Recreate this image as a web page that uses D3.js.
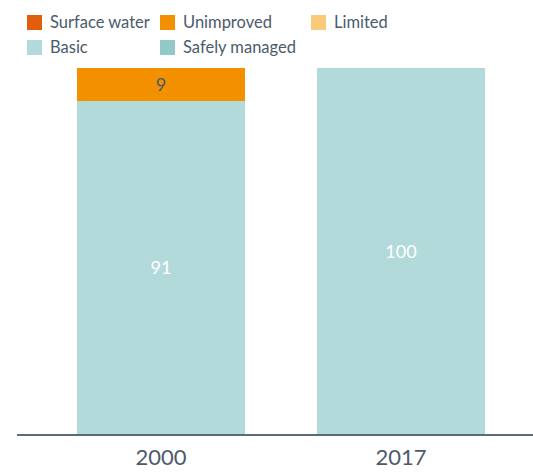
<!DOCTYPE html>
<html>
<head>
<meta charset="utf-8">
<script src="https://cdn.jsdelivr.net/npm/d3@7"></script>
<style>
  body { margin: 0; background: #fff; }
  text { font-family: Lato, "Noto Sans", sans-serif; }
</style>
</head>
<body>
<svg></svg>
<script>
const years = ['2000', '2017'];
const categories = ['Surface water', 'Unimproved', 'Limited', 'Basic', 'Safely managed'];
const colors = ['#e05d0b', '#f39000', '#fbc97a', '#b3dada', '#92c9c8'];
const surfaceWater = [0, 0];
const unimproved = [9, 0];
const limited = [0, 0];
const basic = [91, 100];
const safelyManaged = [0, 0];

const width = 533, height = 472;
const svg = d3.select('svg')
    .attr('width', width)
    .attr('height', height);

const series = [surfaceWater, unimproved, limited, basic, safelyManaged];
const rows = years.map((y, i) => {
  const r = { year: y };
  categories.forEach((c, j) => r[c] = series[j][i]);
  return r;
});

// bottom-up stack order
const stackOrder = ['Safely managed', 'Basic', 'Limited', 'Unimproved', 'Surface water'];
const stacked = d3.stack().keys(stackOrder)(rows);

const color = d3.scaleOrdinal().domain(categories).range(colors);

const x = d3.scaleBand()
    .domain(years)
    .range([41, 521])
    .paddingInner(0.3)
    .paddingOuter(0.15);

const y = d3.scaleLinear()
    .domain([0, 100])
    .range([435, 68]);

const layer = svg.append('g').selectAll('g')
    .data(stacked)
    .enter().append('g')
      .attr('fill', d => color(d.key));

layer.selectAll('rect')
    .data(d => d.map(v => Object.assign(v, { key: d.key })))
    .enter().append('rect')
      .attr('x', d => x(d.data.year))
      .attr('width', x.bandwidth())
      .attr('y', d => y(d[1]))
      .attr('height', d => y(d[0]) - y(d[1]));

// value labels
layer.selectAll('text')
    .data(d => d.filter(v => v[1] - v[0] > 0))
    .enter().append('text')
      .attr('x', d => x(d.data.year) + x.bandwidth() / 2)
      .attr('y', d => (y(d[0]) + y(d[1])) / 2)
      .attr('dy', '0.35em')
      .attr('text-anchor', 'middle')
      .attr('font-size', 18)
      .attr('fill', d => d.key === 'Basic' || d.key === 'Safely managed' ? '#ffffff' : '#4b5b6b')
      .text(d => d[1] - d[0]);

// axis
const xAxis = svg.append('g')
    .attr('transform', 'translate(0,435)')
    .call(d3.axisBottom(x).tickSize(0).tickPadding(14));
xAxis.select('.domain').remove();
xAxis.selectAll('text')
    .attr('font-size', 22)
    .attr('fill', '#4b5b6b');
svg.append('line')
    .attr('x1', 17).attr('x2', width)
    .attr('y1', 435).attr('y2', 435)
    .attr('stroke', '#5a6b7a')
    .attr('stroke-width', 2);

// legend
const legendPos = [[27, 15], [160, 15], [311, 15], [27, 40], [160, 40]];
const legend = svg.append('g').selectAll('g')
    .data(categories)
    .enter().append('g')
      .attr('transform', (d, i) => `translate(${legendPos[i][0]},${legendPos[i][1]})`);
legend.append('rect')
    .attr('width', 15).attr('height', 15)
    .attr('fill', d => color(d));
legend.append('text')
    .attr('x', 23).attr('y', 7.5)
    .attr('dy', '0.35em')
    .attr('font-size', 16.5)
    .attr('fill', '#4b5b6b')
    .text(d => d);
</script>
</body>
</html>
